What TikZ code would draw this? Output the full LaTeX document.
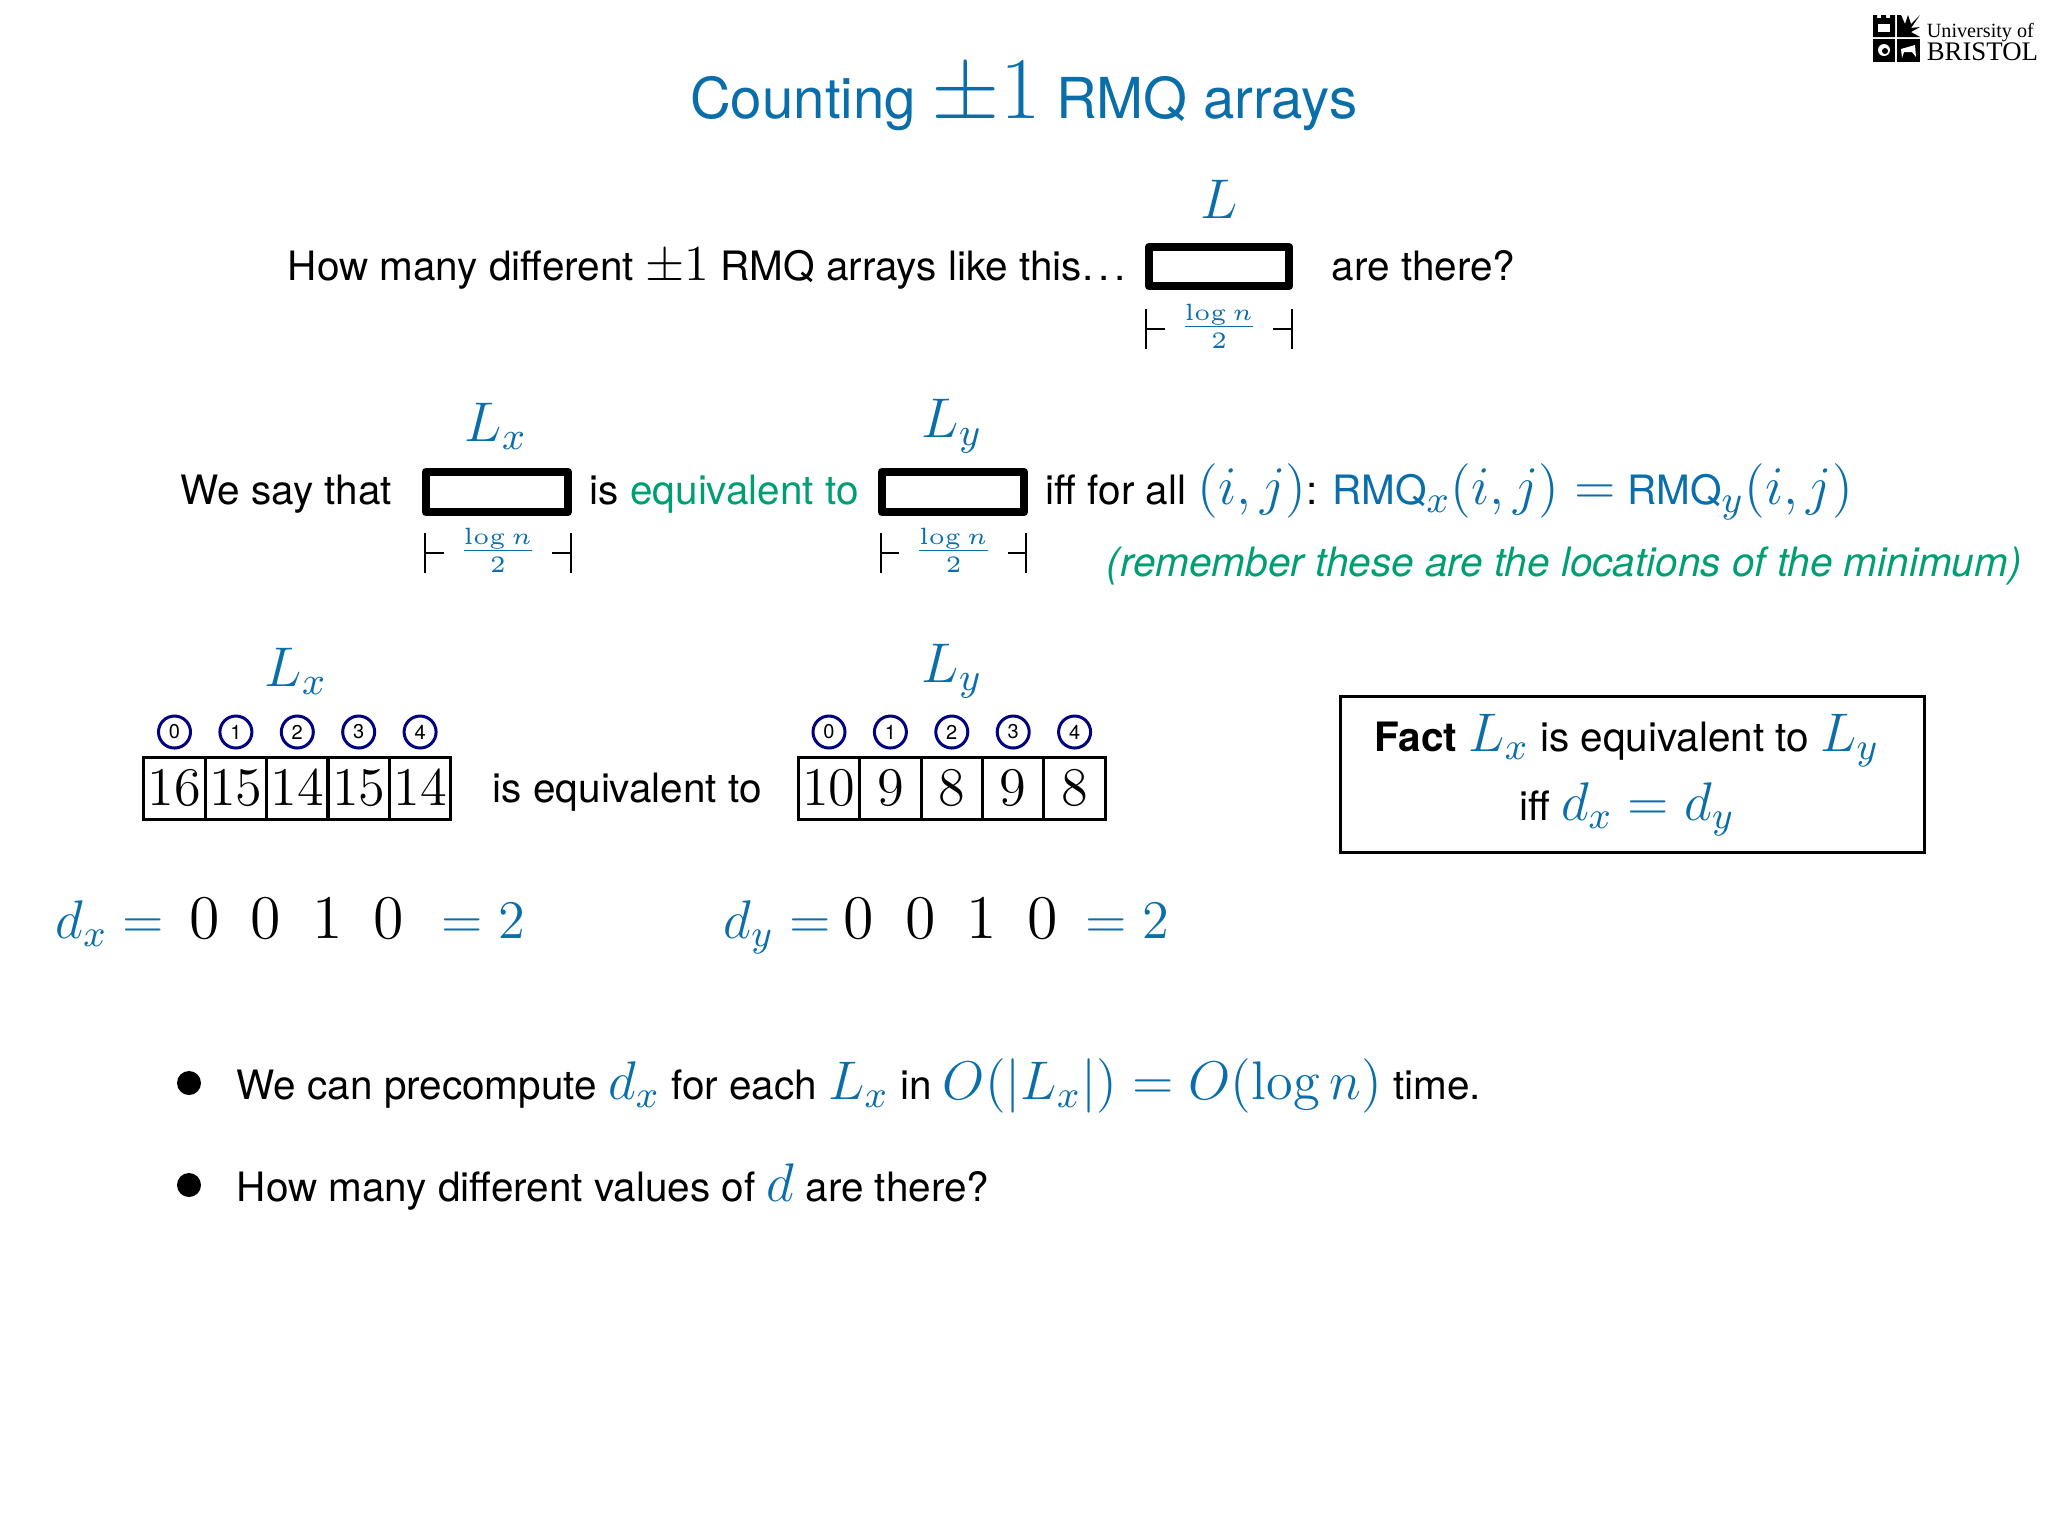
\RequirePackage{fix-cm}
\documentclass[tikz,border=0pt]{standalone}
\usepackage{amsmath}
\usepackage[no-math]{fontspec}
\setsansfont{TeX Gyre Heros}
\newfontfamily\crestfont{Liberation Serif}
\renewcommand{\familydefault}{\sfdefault}
\usepackage{tikz}
\definecolor{slideblue}{RGB}{10,110,170}
\definecolor{slidegreen}{RGB}{0,158,115}
\definecolor{slidenavy}{RGB}{0,0,128}
\newcommand{\mth}[1]{{\color{slideblue}\fontsize{13.6}{16}\selectfont$#1$}}
\newcommand{\blk}[1]{{\fontsize{12.6}{16}\selectfont$#1$}}
\tikzset{
  txt/.style={anchor=base west,inner sep=0pt,font=\fontsize{10.12}{13}\selectfont},
  lab/.style={anchor=base,inner sep=0pt,text=slideblue,font=\fontsize{14}{16}\selectfont},
  big/.style={anchor=base,inner sep=0pt,font=\fontsize{15.5}{18}\selectfont},
  frac/.style={inner sep=3.6pt,text=slideblue,font=\fontsize{8.4}{11}\selectfont},
  eqn/.style={anchor=base west,inner sep=0pt,text=slideblue,font=\fontsize{13.6}{16}\selectfont},
  cell/.style={draw,line width=0.75pt,minimum width=15.37pt,minimum height=15.5pt,inner sep=0pt,font=\fontsize{13.6}{16}\selectfont},
  idx/.style={circle,draw=slidenavy,line width=0.75pt,minimum size=8pt,inner sep=0pt,font=\sffamily\fontsize{5}{6}\selectfont},
  dot/.style={circle,fill=black,minimum size=6pt,inner sep=0pt},
  slot/.style={line width=2.1pt,line join=round}
}
\newcommand{\lenbar}[4]{%
  \draw ({(#2+#3)/2},#4-3) node [frac] (#1) {$\frac{\log n}{2}$};
  \coordinate (#1l) at (#2,#4);
  \coordinate (#1r) at (#3,#4);
  \draw [line width=0.65pt] ([yshift=5pt]#1l) -- ([yshift=-5pt]#1l) (#1l) -- (#1.west |- #1l);
  \draw [line width=0.65pt] ([yshift=5pt]#1r) -- ([yshift=-5pt]#1r) (#1r) -- (#1.east |- #1r);
}
\begin{document}
\begin{tikzpicture}[x=0.25pt,y=0.25pt,yscale=-1,xscale=1]
\useasboundingbox (0,0) rectangle (2048,1536);

% Crest
\fill (1873,15) -- (1877,15) -- (1877,18) -- (1881,18) -- (1881,15) -- (1886,15) -- (1886,18) -- (1890,18) -- (1890,15) -- (1895,15) -- (1895,37) -- (1873,37) -- cycle;
\fill (1897,37) -- (1897,15) -- (1901,15) -- (1905,24) -- (1908,15) -- (1911,24) -- (1920,15) -- (1911,28) -- (1920,27) -- (1911,32) -- (1920,37) -- cycle;
\fill (1873,39) rectangle (1895,62);
\fill (1897,39) rectangle (1920,62);
\fill [white] (1878,24) rectangle (1890,32);
\fill [white] (1884,50) circle [radius=6];
\fill [black] (1885,51) circle [radius=3];
\fill [white] (1901,49) -- (1915,45) -- (1916,57) -- (1912,52) -- (1904,52) -- (1902,58) -- cycle;
\draw (1926,37) node [anchor=base west,inner sep=0pt,font=\crestfont\fontsize{5.05}{6}\selectfont] (uni) {University of};
\draw (1926,60) node [anchor=base west,inner sep=0pt,font=\crestfont\fontsize{6.7}{8}\selectfont] (bris) {BRISTOL};

% Title
\draw (1024,118) node [anchor=base,inner sep=0pt,text=slideblue,font=\fontsize{14.1}{17}\selectfont] (title) {Counting {\fontsize{22}{24}\selectfont$\pm 1$} RMQ arrays};

% First row
\draw (287,280) node [txt] (howmany) {How many different \blk{\pm 1} RMQ arrays like this.\hspace{1.3pt}.\hspace{1.3pt}.};
\draw [slot] (1149,247) rectangle (1289,286);
\draw (1219,218) node [lab] (topL) {$L$};
\draw (1331,280) node [txt] (arethere) {are there?};
\lenbar{lenT}{1146}{1292}{329}

% Second row
\draw (180,504) node [txt] (saythat) {We say that};
\draw [slot] (426,472) rectangle (568,512);
\draw [slot] (882,472) rectangle (1024,512);
\draw (496,441) node [lab] (boxLx) {$L_x$};
\draw (952,437) node [lab] (boxLy) {$L_y$};
\draw (589,504) node [txt] (isequiv) {is {\color{slidegreen}equivalent to}};
\draw (1045,504) node [txt] (iff) {iff for all \mth{(i,j)}: {\color{slideblue}RMQ}\mth{_x(i,j)=}\hspace{2.8pt}{\color{slideblue}RMQ}\mth{_y(i,j)}};
\lenbar{lenA}{425}{571}{553}
\lenbar{lenB}{881}{1026}{553}
\draw (1106,576) node [txt,text=slidegreen,font=\itshape\fontsize{10.12}{13}\selectfont] (remember) {(remember these are the locations of the minimum)};

% Arrays
\draw (296,686) node [lab] (arrLx) {$L_x$};
\draw (952,682) node [lab] (arrLy) {$L_y$};
\foreach \val [count=\i from 0] in {16,15,14,15,14} {
  \draw ({174.5+61.4*\i},788) node [cell] (ax\i) {$\val$};
  \draw ({174.5+61.4*\i},732) node [idx] (ix\i) {\i};
}
\foreach \val [count=\i from 0] in {10,9,8,9,8} {
  \draw ({829+61.4*\i},788) node [cell] (ay\i) {$\val$};
  \draw ({829+61.4*\i},732) node [idx] (iy\i) {\i};
}
\draw (492,802) node [txt] (arrequiv) {is equivalent to};

% Fact
\draw (1339,695) node [anchor=north west,draw,line width=0.7pt,minimum width=146pt,minimum height=39pt,inner sep=0pt] (factbox) {};
\draw (1627,751) node [txt,anchor=base] (fact) {\textbf{Fact} \mth{L_x} is equivalent to \mth{L_y}};
\draw (1627,820) node [txt,anchor=base] (factiff) {iff \mth{d_x=d_y}};

% Differences
\draw (55,938) node [eqn] (dx) {$d_x=$};
\foreach \val/\xx [count=\i] in {0/205,0/266,1/328,0/389} {
  \draw (\xx,938) node [big] (dx\i) {$\val$};
}
\draw (441,938) node [eqn] (dxsum) {$=2$};
\draw (723,938) node [eqn] (dy) {$d_y=$};
\foreach \val/\xx [count=\i] in {0/859,0/921,1/982,0/1043} {
  \draw (\xx,938) node [big] (dy\i) {$\val$};
}
\draw (1085,938) node [eqn] (dysum) {$=2$};

% Bullets
\draw (189,1083) node [dot] (dotA) {};
\draw (236,1099) node [txt] (itemA) {We can precompute \mth{d_x} for each \mth{L_x} in \mth{O(|L_x|)=O(\log n)} time.};
\draw (189,1185) node [dot] (dotB) {};
\draw (236,1201) node [txt] (itemB) {How many different values of \mth{d} are there?};

\end{tikzpicture}
\end{document}
